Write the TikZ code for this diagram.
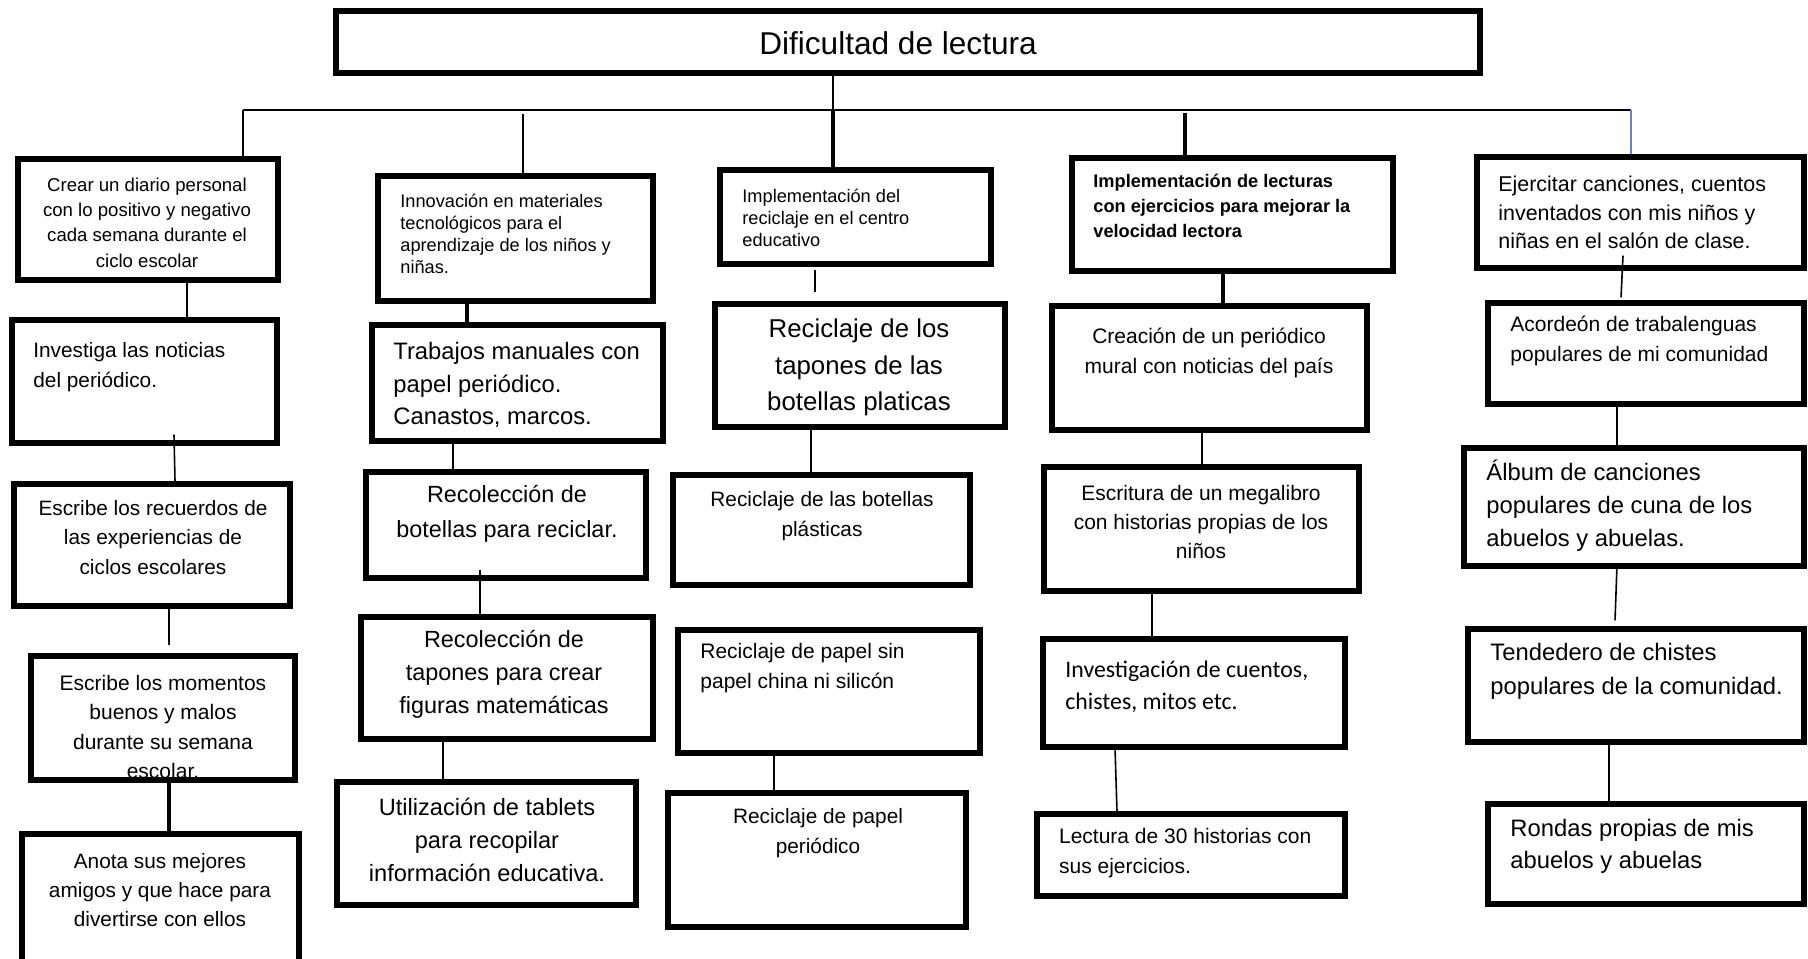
\documentclass[tikz,border=0pt]{standalone}
\usepackage{fontspec}
\setmainfont{Liberation Sans}
\newfontfamily\calfont{Carlito}
\usepackage{xcolor}
\definecolor{stemblue}{RGB}{91,135,205}
\newcommand{\fs}[2]{\fontsize{#1}{#2}\selectfont}

\begin{document}
\begin{tikzpicture}[x=0.5pt, y=-0.5pt,
    box/.style={rectangle, draw, line width=2.6pt, inner sep=0pt},
    txt/.style={inner sep=0pt, align=left, anchor=west},
    ctxt/.style={inner sep=0pt, align=center, anchor=center},
    link/.style={line width=0.8pt},
    thicklink/.style={line width=2pt}
]
    \useasboundingbox (0,0) rectangle (1808,958);

    % Title
    \node[box, minimum width=572pt, minimum height=31pt] (title) at (908,42) {};
    \node[ctxt, font=\fs{15.8}{19}] (ttitle) at (898,43) {Dificultad de lectura};

    % Main line
    \coordinate (busL) at (243,110);
    \coordinate (busR) at (1631,110);
    \coordinate (bus3) at (833,110);

    % Top row boxes
    \node[box, minimum width=130pt, minimum height=60.5pt] (c1a) at (148,219.5) {};
    \node[box, minimum width=137.5pt, minimum height=62.5pt] (c2a) at (515.5,238.5) {};
    \node[box, minimum width=135.5pt, minimum height=47pt] (c3a) at (855.5,217) {};
    \node[box, minimum width=160.5pt, minimum height=56.5pt] (c4a) at (1232.5,214.5) {};
    \node[box, minimum width=163.5pt, minimum height=55.5pt] (c5a) at (1640.5,212.5) {};

    \node[ctxt, font=\fs{9.3}{12.7}] (t1a) at (147,222.5) {Crear un diario personal\\con lo positivo y negativo\\cada semana durante el\\ciclo escolar};
    \node[txt, font=\fs{9.1}{11}] (t2a) at (400,234) {Innovación en materiales\\tecnológicos para el\\aprendizaje de los niños y\\niñas.};
    \node[txt, font=\fs{9.1}{10.95}] (t3a) at (742,218) {Implementación del\\reciclaje en el centro\\educativo};
    \node[txt, font=\fs{9.1}{12.7}\bfseries] (t4a) at (1093,206) {Implementación de lecturas\\con ejercicios para mejorar la\\velocidad lectora};
    \node[txt, font=\fs{10.7}{14.4}] (t5a) at (1498,212.5) {Ejercitar canciones, cuentos\\inventados con mis niños y\\niñas en el salón de clase.};

    % Column 1
    \node[box, minimum width=132.5pt, minimum height=61.5pt] (c1b) at (144.5,381.5) {};
    \node[box, minimum width=138pt, minimum height=61pt] (c1c) at (152,545) {};
    \node[box, minimum width=132pt, minimum height=62pt] (c1d) at (163,718) {};
    \node[box, minimum width=138.5pt, minimum height=64pt] (c1e) at (160.5,898) {};

    \node[txt, font=\fs{10.4}{15}] (t1b) at (33,367) {Investiga las noticias\\del periódico.};
    \node[ctxt, font=\fs{10.4}{14.8}] (t1c) at (153,537.5) {Escribe los recuerdos de\\las experiencias de\\ciclos escolares};
    \node[ctxt, font=\fs{10.5}{14.8}] (t1d) at (163,727) {Escribe los momentos\\buenos y malos\\durante su semana\\escolar.};
    \node[ctxt, font=\fs{10.4}{14.5}] (t1e) at (160,890) {Anota sus mejores\\amigos y que hace para\\divertirse con ellos};

    % Column 2
    \node[box, minimum width=145.5pt, minimum height=58pt] (c2b) at (517.5,383) {};
    \node[box, minimum width=140pt, minimum height=53pt] (c2c) at (506,525) {};
    \node[box, minimum width=146pt, minimum height=61pt] (c2d) at (507,678) {};
    \node[box, minimum width=149.5pt, minimum height=61.5pt] (c2e) at (486.5,843.5) {};

    \node[txt, font=\fs{11.9}{16.2}] (t2b) at (393,385) {Trabajos manuales con\\papel periódico.\\Canastos, marcos.};
    \node[ctxt, font=\fs{11.7}{17.3}] (t2c) at (507,514) {Recolección de\\botellas para reciclar.};
    \node[ctxt, font=\fs{11.7}{16.5}] (t2d) at (504,674.5) {Recolección de\\tapones para crear\\figuras matemáticas};
    \node[ctxt, font=\fs{11.8}{16.7}] (t2e) at (487,840) {Utilización de tablets\\para recopilar\\información educativa.};

    % Column 3
    \node[box, minimum width=145pt, minimum height=61.5pt] (c3b) at (860,365.5) {};
    \node[box, minimum width=148.5pt, minimum height=55pt] (c3c) at (821.5,530) {};
    \node[box, minimum width=151pt, minimum height=61.5pt] (c3d) at (829,691.5) {};
    \node[box, minimum width=149pt, minimum height=67pt] (c3e) at (817,860) {};

    \node[ctxt, font=\fs{12.9}{18.2}] (t3b) at (859,367.5) {Reciclaje de los\\tapones de las\\botellas platicas};
    \node[ctxt, font=\fs{10.4}{15}] (t3c) at (822,516) {Reciclaje de las botellas\\plásticas};
    \node[txt, font=\fs{10.5}{15}] (t3d) at (700,668) {Reciclaje de papel sin\\papel china ni silicón};
    \node[ctxt, font=\fs{10.4}{15}] (t3e) at (818,833) {Reciclaje de papel\\periódico};

    % Column 4
    \node[box, minimum width=157.5pt, minimum height=62pt] (c4b) at (1209.5,368) {};
    \node[box, minimum width=157.5pt, minimum height=62pt] (c4c) at (1201.5,529) {};
    \node[box, minimum width=151pt, minimum height=54pt] (c4d) at (1194,693) {};
    \node[box, minimum width=154pt, minimum height=41pt] (c4e) at (1191,855) {};

    \node[ctxt, font=\fs{10.5}{15}] (t4b) at (1209,353) {Creación de un periódico\\mural con noticias del país};
    \node[ctxt, font=\fs{10.5}{14.5}] (t4c) at (1201,522) {Escritura de un megalibro\\con historias propias de los\\niños};
    \node[txt, font=\calfont\fs{11.9}{16}] (t4d) at (1065,687) {Investigación de cuentos,\\chistes, mitos etc.};
    \node[txt, font=\fs{10.5}{15}] (t4e) at (1058.7,853) {Lectura de 30 historias con\\sus ejercicios.};

    % Column 5
    \node[box, minimum width=158pt, minimum height=50.5pt] (c5b) at (1646,353.5) {};
    \node[box, minimum width=170pt, minimum height=59pt] (c5c) at (1634,507) {};
    \node[box, minimum width=168pt, minimum height=56.5pt] (c5d) at (1636,685.5) {};
    \node[box, minimum width=158pt, minimum height=50pt] (c5e) at (1646,854) {};

    \node[txt, font=\fs{10.5}{15}] (t5b) at (1510,341) {Acordeón de trabalenguas\\populares de mi comunidad};
    \node[txt, font=\fs{11.9}{16.5}] (t5c) at (1486,506) {Álbum de canciones\\populares de cuna de los\\abuelos y abuelas.};
    \node[txt, font=\fs{11.9}{17}] (t5d) at (1490,671) {Tendedero de chistes\\populares de la comunidad.};
    \node[txt, font=\fs{11.9}{16}] (t5e) at (1510,846) {Rondas propias de mis\\abuelos y abuelas};

    % Lines from the title
    \draw[line width=1.2pt] (busL) -- (busR);
    \draw[line width=1pt] (title.south -| bus3) -- (bus3);
    \draw[thicklink] (bus3) -- (c3a.north -| bus3);
    \draw[link] (busL) -- (c1a.north -| busL);
    \draw[link] ([xshift=3.75pt]c2a.north) -- ++(0,-59);
    \draw[thicklink] ([xshift=-23.75pt]c4a.north) -- ++(0,-42);
    \draw[link, stemblue] (busR) -- (c5a.north -| busR);

    % Column 1 links
    \draw[link] ([xshift=19.5pt]c1a.south) -- ([xshift=21.25pt]c1b.north);
    \draw[link] ([xshift=14.75pt, yshift=5.5pt]c1b.south) -- ([xshift=11.5pt]c1c.north);
    \draw[link] ([xshift=8.5pt, yshift=2pt]c1c.south) -- ([xshift=3pt, yshift=4pt]c1d.north);
    \draw[thicklink] ([xshift=3pt, yshift=1.5pt]c1d.south) -- ([xshift=4.25pt]c1e.north);

    % Column 2 links
    \draw[thicklink] ([xshift=-24.25pt]c2a.south) -- ([xshift=-25.25pt]c2b.north);
    \draw[link] ([xshift=-32.25pt, yshift=1.5pt]c2b.south) -- ([xshift=-26.5pt]c2c.north);
    \draw[link] ([xshift=-13pt, yshift=5.5pt]c2c.south) -- ([xshift=-13.5pt]c2d.north);
    \draw[link] ([xshift=-32pt, yshift=2pt]c2d.south) -- ([xshift=-21.75pt]c2e.north);

    % Column 3 links
    \draw[link] ([xshift=-20.25pt, yshift=-1.5pt]c3a.south) -- ([xshift=-22.5pt, yshift=4.5pt]c3b.north);
    \draw[link] ([xshift=-24.5pt]c3b.south) -- ([xshift=-5.25pt]c3c.north);
    \draw[link] ([xshift=-27.5pt]c3d.south) -- ([xshift=-21.5pt]c3e.north);

    % Column 4 links
    \draw[thicklink] ([xshift=-4.75pt, yshift=3pt]c4a.south) -- ([xshift=6.75pt]c4b.north);
    \draw[link] ([xshift=-3.75pt]c4b.south) -- ([xshift=0.25pt, yshift=-2pt]c4c.north);
    \draw[link] ([xshift=-24.75pt]c4c.south) -- ([xshift=-21pt]c4d.north);
    \draw[link] ([xshift=-39.5pt, yshift=1pt]c4d.south) -- ([xshift=-37pt]c4e.north);

    % Column 5 links
    \draw[link] ([xshift=-8.75pt, yshift=7.5pt]c5a.south) -- ([xshift=-12.5pt, yshift=1.5pt]c5b.north);
    \draw[link] ([xshift=-14.5pt, yshift=1pt]c5b.south) -- ([xshift=-8.5pt]c5c.north);
    \draw[link] ([xshift=-8.5pt, yshift=2pt]c5c.south) -- ([xshift=-10.5pt, yshift=3pt]c5d.north);
    \draw[link] ([xshift=-13.5pt]c5d.south) -- ([xshift=-18.5pt]c5e.north);

\end{tikzpicture}
\end{document}
